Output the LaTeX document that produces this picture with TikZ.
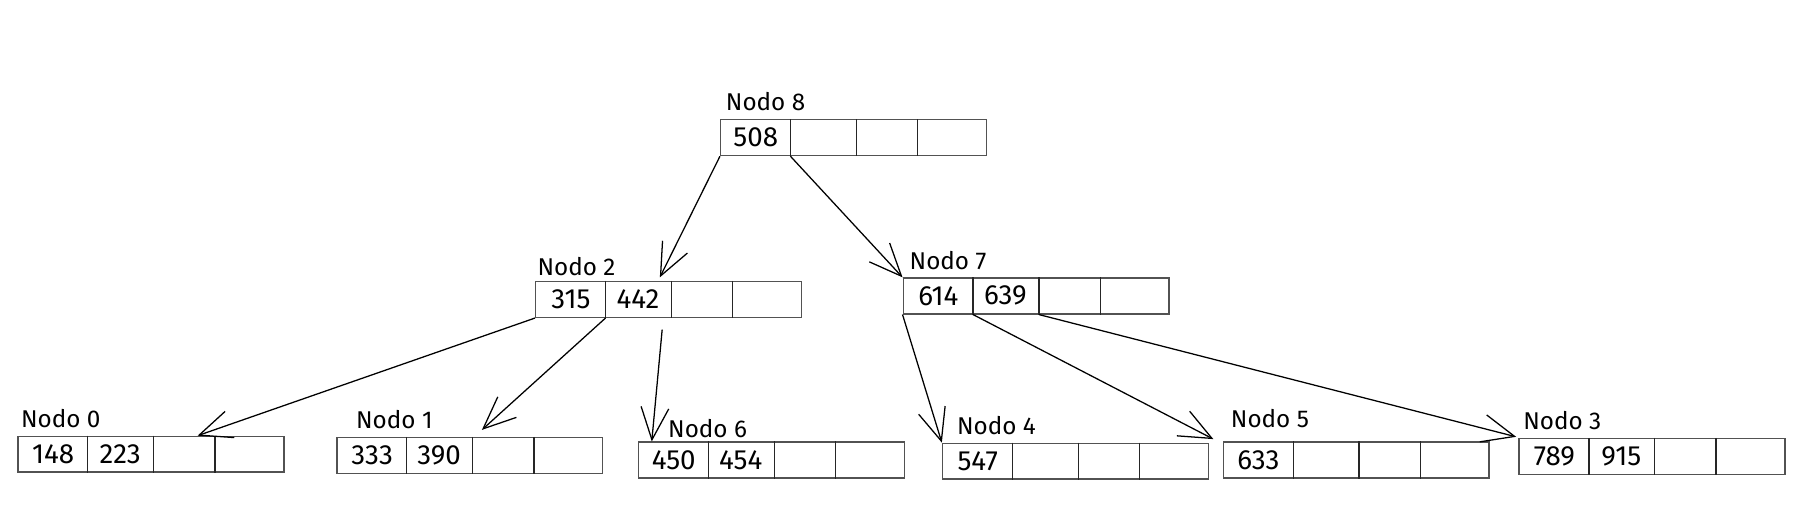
\documentclass[tikz,border=0pt]{standalone}
\usepackage{fontspec}
\setmainfont{Fira Sans}
\usetikzlibrary{arrows.meta,calc}
\tikzset{
  boxline/.style={draw=black!68, line width=1.2pt},
  divline/.style={draw=black!85, line width=1.1pt},
  lbl/.style={anchor=base west, inner sep=0pt, font=\fontsize{21}{24}\selectfont},
  keytxt/.style={anchor=center, inner sep=0pt, font=\fontsize{24}{27}\selectfont},
  link/.style={draw=black, line width=1.1pt, -{Straight Barb[length=28pt,width=24pt,line width=1.1pt]}},
}
% name, x, y, label, key1, key2, label dx, label dy (above box top)
\newcommand\btreenode[8]{%
  \node[boxline, rectangle, minimum width=230pt, minimum height=31pt, inner sep=0pt, anchor=north west] (#1) at (#2,#3) {};
  \foreach \dd/\ii in {61/1,118/2,171/3}{%
    \draw[divline] ($(#1.north west)+(\dd,0)$) coordinate (#1-t\ii) -- ($(#1.south west)+(\dd,0)$) coordinate (#1-b\ii);}
  \node[lbl] (#1-lbl) at ($(#1.north west)+(#7,-#8)$) {#4};
  \if\relax\detokenize{#5}\relax\else\node[keytxt] (#1-k1) at ($(#1.north west)+(31,16)$) {#5};\fi
  \if\relax\detokenize{#6}\relax\else\node[keytxt] (#1-k2) at ($(#1.north west)+(89,16)$) {#6};\fi
}
\begin{document}
\begin{tikzpicture}[x=1pt,y=-1pt]
  \useasboundingbox (0,0) rectangle (1568,441);
  \btreenode{n8}{623}{103}{Nodo 8}{508}{}{5}{7}
  \btreenode{n2}{463}{243}{Nodo 2}{315}{442}{2}{5}
  \btreenode{n7}{781}{240}{Nodo 7}{614}{639}{6}{7}
  \btreenode{n0}{15}{377}{Nodo 0}{148}{223}{3}{7}
  \btreenode{n1}{291}{378}{Nodo 1}{333}{390}{17}{7}
  \btreenode{n6}{552}{382}{Nodo 6}{450}{454}{26}{3}
  \btreenode{n4}{815}{383}{Nodo 4}{547}{}{13}{7}
  \btreenode{n5}{1058}{382}{Nodo 5}{633}{}{7}{12}
  \btreenode{n3}{1314}{379}{Nodo 3}{789}{915}{4}{7}
  \coordinate (s6) at ($(n2.south west)+(110,10)$);
  \draw[link] (n8.south west) -- ($(n2.north west)+(108,-3)$);
  \draw[link] (n8-b1) -- (n7.north west);
  \draw[link] (n2.south west) -- ($(n0.north west)+(156,0)$);
  \draw[link] (n2-b1) -- ($(n1.north west)+(126,-6)$);
  \draw[link] (s6) -- ($(n6.north west)+(12,0)$);
  \draw[link] (n7.south west) -- (n4.north west);
  \draw[link] (n7-b1) -- ($(n5.north west)+(-8,-2)$);
  \draw[link] (n7-b2) -- ($(n3.north west)+(-2,-1)$);
\end{tikzpicture}
\end{document}
